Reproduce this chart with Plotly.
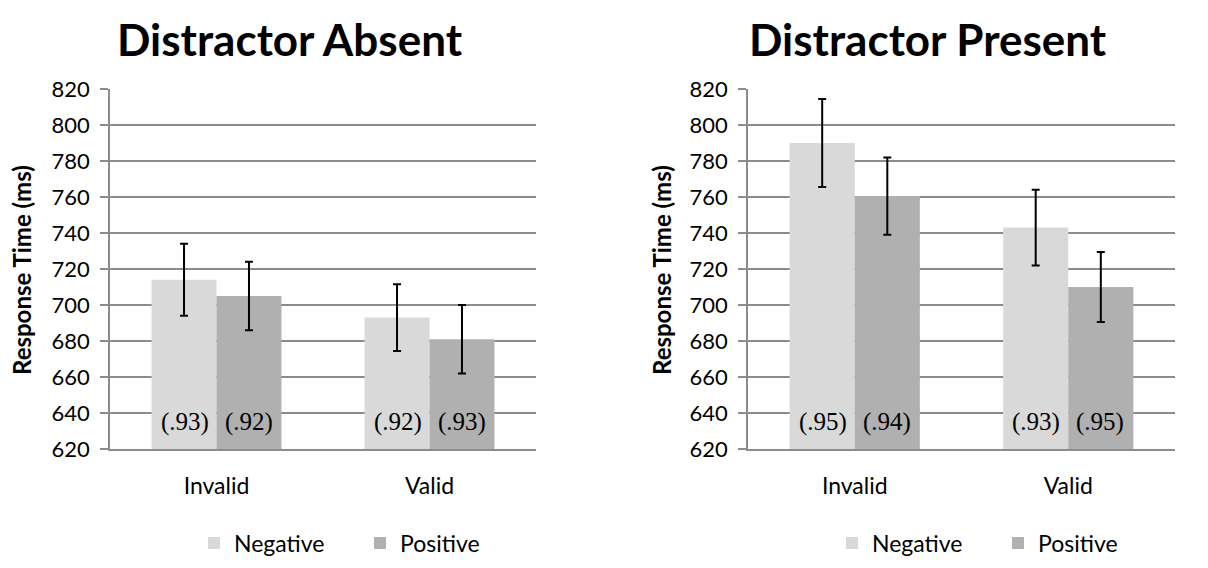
import plotly.graph_objects as go

categories = ["Invalid", "Valid"]
series_names = ["Negative", "Positive"]

absent_neg = [714, 693]
absent_neg_err = [20, 18.5]
absent_pos = [705, 681]
absent_pos_err = [19, 19]

present_neg = [790, 743]
present_neg_err = [24.5, 21]
present_pos = [760.5, 710]
present_pos_err = [21.5, 19.5]

absent_neg_acc = ["(.93)", "(.92)"]
absent_pos_acc = ["(.92)", "(.93)"]
present_neg_acc = ["(.95)", "(.93)"]
present_pos_acc = ["(.94)", "(.95)"]

titles = ["Distractor Absent", "Distractor Present"]
y_title = "Response Time (ms)"
y_ticks = list(range(620, 821, 20))

colors = {"Negative": "#d9d9d9", "Positive": "#b0b0b0"}
# page body has an 8px margin; the figure is sized so that it fits the window
W, H = 1192, 552
FONT = "Lato, Open Sans, sans-serif"
GRID = "#8c8c8c"

fig = go.Figure()

panels = [
    ("x", "y", "legend", [(absent_neg, absent_neg_err, absent_neg_acc), (absent_pos, absent_pos_err, absent_pos_acc)]),
    ("x2", "y2", "legend2", [(present_neg, present_neg_err, present_neg_acc), (present_pos, present_pos_err, present_pos_acc)]),
]

for xa, ya, lg, series in panels:
    for name, (vals, errs, acc) in zip(series_names, series):
        fig.add_trace(go.Bar(
            x=categories, y=vals, name=name, xaxis=xa, yaxis=ya, legend=lg,
            marker=dict(color=colors[name], line=dict(width=0)),
            error_y=dict(type="data", array=errs, color="black", thickness=2, width=4),
        ))

x_domains = [[102 / W, 528 / W], [740 / W, 1167 / W]]
y_domain = [1 - 441 / H, 1 - 81 / H]

common_x = dict(showgrid=False, showline=True, linecolor=GRID, linewidth=1.5,
                ticks="", tickfont=dict(family=FONT, size=23, color="black"),
                ticklabelstandoff=16, automargin=False)
common_y = dict(range=[620, 820], tickvals=y_ticks, showgrid=True, gridcolor=GRID,
                gridwidth=1.5, showline=True, linecolor=GRID, linewidth=1.5,
                ticks="outside", ticklen=8, tickcolor=GRID, tickwidth=1.5,
                tickfont=dict(family=FONT, size=22, color="black"),
                ticklabelstandoff=6, zeroline=False, automargin=False)

legend_common = dict(orientation="h", y=1 - 535 / H, yanchor="middle", xanchor="left",
                     entrywidth=121, font=dict(family=FONT, size=23, color="black"),
                     bgcolor="rgba(0,0,0,0)")

fig.update_layout(
    width=W, height=H, margin=dict(l=0, r=0, t=0, b=0, autoexpand=False),
    paper_bgcolor="white", plot_bgcolor="white",
    barmode="group", bargap=0.39, bargroupgap=0,
    xaxis=dict(domain=x_domains[0], anchor="y", **common_x),
    yaxis=dict(domain=y_domain, anchor="x", **common_y),
    xaxis2=dict(domain=x_domains[1], anchor="y2", **common_x),
    yaxis2=dict(domain=y_domain, anchor="x2", **common_y),
    legend=dict(x=186 / W, **legend_common),
    legend2=dict(x=824 / W, **legend_common),
    showlegend=True,
)

annotations = []
title_x = [282 / W, 920 / W]
ytitle_x = [13 / W, 653 / W]
for i in range(2):
    annotations.append(dict(text="<b>" + titles[i] + "</b>", x=title_x[i], y=1 - 31 / H,
                            xref="paper", yref="paper", showarrow=False,
                            font=dict(family=FONT, size=44, color="black"),
                            xanchor="center", yanchor="middle"))
    annotations.append(dict(text="<b>" + y_title + "</b>", x=ytitle_x[i], y=1 - 262 / H,
                            xref="paper", yref="paper", showarrow=False, textangle=-90,
                            font=dict(family=FONT, size=24, color="black"),
                            xanchor="center", yanchor="middle"))

for (xa, ya, lg, series) in panels:
    for k, (vals, errs, acc) in enumerate(series):
        shift = -32 if k == 0 else 32
        for cat, txt in zip(categories, acc):
            annotations.append(dict(text=txt, x=cat, y=620, xref=xa, yref=ya,
                                    showarrow=False, xshift=shift, yshift=11,
                                    yanchor="bottom", xanchor="center",
                                    font=dict(family="Liberation Serif, Times New Roman, serif",
                                              size=25, color="black")))

fig.update_layout(annotations=annotations)
fig.write_html("out.html")
